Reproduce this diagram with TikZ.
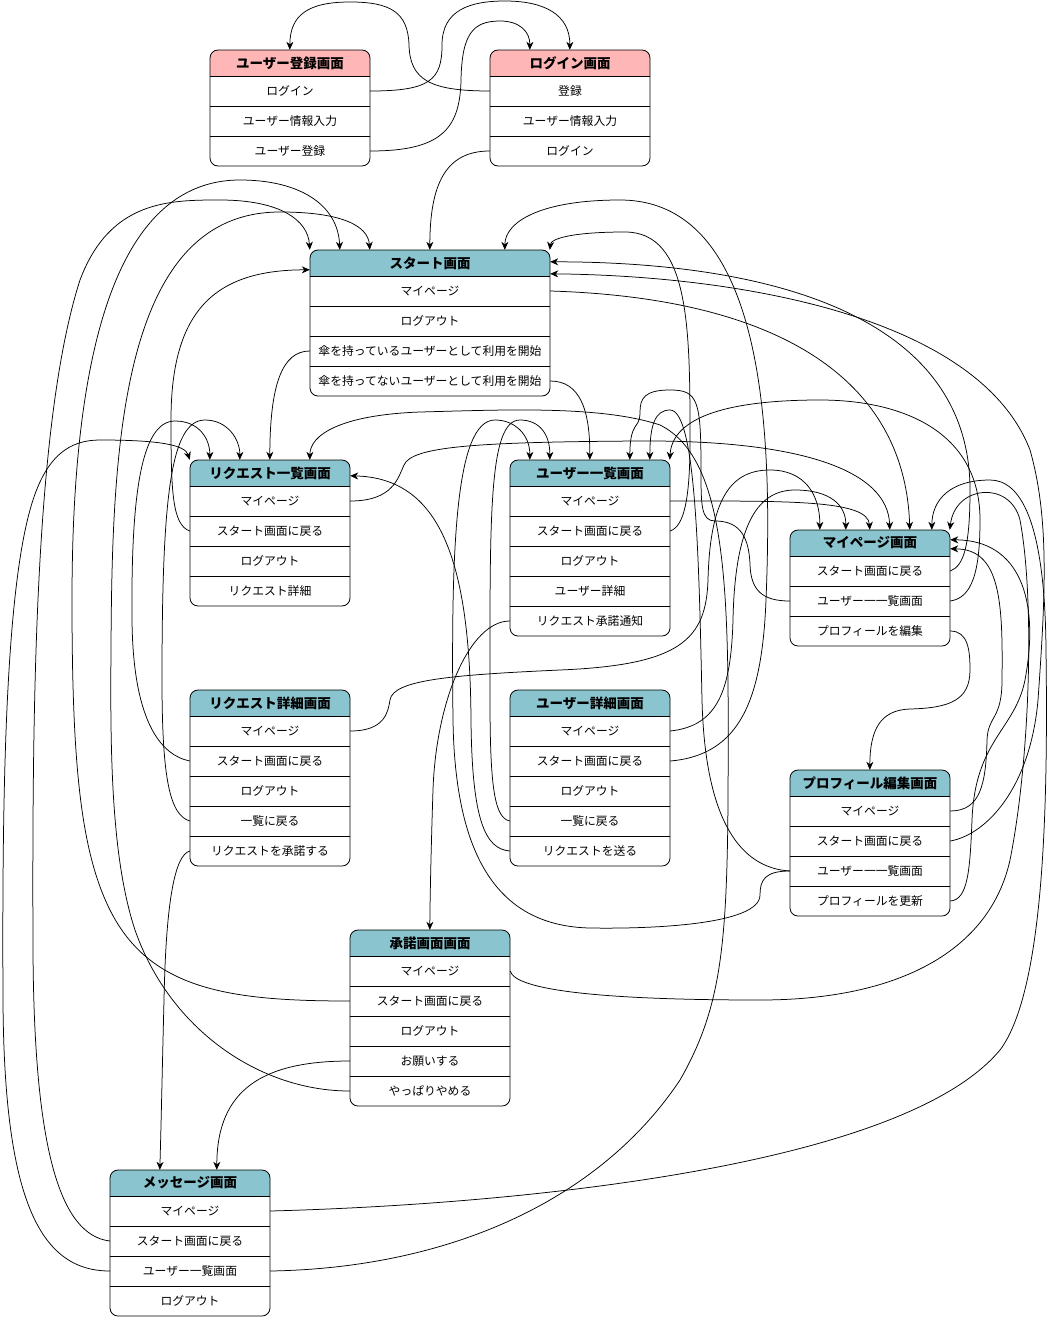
\documentclass[tikz,border=0pt]{standalone}
\usepackage{fontspec}
\setmainfont{Noto Sans CJK JP}
\usetikzlibrary{arrows.meta}
\definecolor{pinkhdr}{HTML}{FFB6B6}
\definecolor{tealhdr}{HTML}{89C4CF}
\tikzset{
  edge/.style={draw=black, line width=0.75pt, -{Stealth[length=8pt,width=7pt,inset=2.5pt]}},
  hdrtext/.style={font=\fontsize{13.5}{15}\selectfont\bfseries, inner sep=0pt, minimum height=26pt},
  rowtext/.style={font=\fontsize{11.8}{14}\selectfont, inner sep=0pt, minimum height=30pt},
  frame/.style={line width=0.8pt},
}
% name, x, y, width, header fill, title, number of rows, rows
\newcommand\screen[8]{%
  \fill[white, rounded corners=8pt] (#2,#3) rectangle (#2+#4,#3+26+30*#7);
  \path[fill=#5] (#2,#3+26) {[rounded corners=8pt] -- (#2,#3) -- (#2+#4,#3)} -- (#2+#4,#3+26) -- cycle;
  \node[hdrtext, minimum width=#4pt] (#1) at (#2+#4/2,#3+13) {#6};
  \foreach \t [count=\i] in {#8} {
    \node[rowtext, minimum width=#4pt] (#1-\i) at (#2+#4/2,#3+11+30*\i) {\t};
    \draw[frame] (#2,#3-4+30*\i) -- (#2+#4,#3-4+30*\i);
  }
  \draw[frame, rounded corners=8pt] (#2,#3) rectangle (#2+#4,#3+26+30*#7);
}
\begin{document}
\begin{tikzpicture}[x=1pt,y=-1pt]
\useasboundingbox[fill=white] (0,0) rectangle (1051,1317);

% screens
\screen{reg}{210}{50}{160}{pinkhdr}{ユーザー登録画面}{3}{ログイン,ユーザー情報入力,ユーザー登録}
\screen{login}{490}{50}{160}{pinkhdr}{ログイン画面}{3}{登録,ユーザー情報入力,ログイン}
\screen{start}{310}{250}{240}{tealhdr}{スタート画面}{4}{マイページ,ログアウト,傘を持っているユーザーとして利用を開始,傘を持ってないユーザーとして利用を開始}
\screen{reqlist}{190}{460}{160}{tealhdr}{リクエスト一覧画面}{4}{マイページ,スタート画面に戻る,ログアウト,リクエスト詳細}
\screen{userlist}{510}{460}{160}{tealhdr}{ユーザー一覧画面}{5}{マイページ,スタート画面に戻る,ログアウト,ユーザー詳細,リクエスト承諾通知}
\screen{mypage}{790}{530}{160}{tealhdr}{マイページ画面}{3}{スタート画面に戻る,ユーザー一一覧画面,プロフィールを編集}
\screen{reqdet}{190}{690}{160}{tealhdr}{リクエスト詳細画面}{5}{マイページ,スタート画面に戻る,ログアウト,一覧に戻る,リクエストを承諾する}
\screen{userdet}{510}{690}{160}{tealhdr}{ユーザー詳細画面}{5}{マイページ,スタート画面に戻る,ログアウト,一覧に戻る,リクエストを送る}
\screen{profile}{790}{770}{160}{tealhdr}{プロフィール編集画面}{4}{マイページ,スタート画面に戻る,ユーザー一一覧画面,プロフィールを更新}
\screen{shonin}{350}{930}{160}{tealhdr}{承諾画面画面}{5}{マイページ,スタート画面に戻る,ログアウト,お願いする,やっぱりやめる}
\screen{message}{110}{1170}{160}{tealhdr}{メッセージ画面}{4}{マイページ,スタート画面に戻る,ユーザー一覧画面,ログアウト}

% registration / login
\draw[edge] (reg-1.east) .. controls (430,91) and (442,80) .. (442,45) .. controls (442,10) and (470,1) .. (505,1) .. controls (545,1) and (570,15) .. ([xshift=80pt]login.north west);
\draw[edge] (reg-3.east) .. controls (440,151) and (460,130) .. (461,80) .. controls (462,35) and (472,21) .. (500,21) .. controls (520,21) and (530,32) .. ([xshift=40pt]login.north west);
\draw[edge] (login-1.west) .. controls (430,91) and (410,80) .. (409,45) .. controls (408,12) and (390,2) .. (350,2) .. controls (308,2) and (290,15) .. ([xshift=80pt]reg.north west);
\draw[edge] (login-3.west) .. controls (445,151) and (430,185) .. ([xshift=120pt]start.north west);

% start screen
\draw[edge] (start-1.east) .. controls (780,298) and (905,380) .. ([xshift=120pt]mypage.north west);
\draw[edge] (start-3.west) .. controls (282,351) and (270,385) .. ([xshift=80pt]reqlist.north west);
\draw[edge] (start-4.east) .. controls (580,381) and (590,410) .. ([xshift=80pt]userlist.north west);

% request list
\draw[edge] (reqlist-1.east) .. controls (393,501) and (398,478) .. (404,465) .. controls (412,447) and (470,442) .. (640,441) .. controls (800,440) and (888,470) .. ([xshift=100pt]mypage.north west);
\draw[edge] (reqlist-2.west) .. controls (172,525) and (171,490) .. (171,420) .. controls (171,310) and (215,270) .. ([yshift=-20pt]start.north west);

% user list
\draw[edge] (userlist-1.east) .. controls (790,501) and (868,500) .. ([xshift=80pt]mypage.north west);
\draw[edge] (userlist-2.east) .. controls (684,526) and (690,500) .. (690,440) .. controls (690,330) and (690,232) .. (625,232) .. controls (575,232) and (551,238) .. ([xshift=240pt]start.north west);
\draw[edge] (userlist-5.west) .. controls (470,621) and (436,700) .. (433,790) .. controls (431,850) and (430,900) .. ([xshift=80pt]shonin.north west);

% my page
\draw[edge] (mypage-1.east) .. controls (964,566) and (970,545) .. (970,490) .. controls (970,320) and (780,262) .. ([yshift=-12pt]start.north east);
\draw[edge] (mypage-2.west) .. controls (762,601) and (751,590) .. (750,565) .. controls (749,532) and (736,521) .. (715,521) .. controls (701,521) and (701,505) .. (701,470) .. controls (701,400) and (698,390) .. (670,390) .. controls (645,390) and (640,398) .. (640,412) .. controls (640,430) and (630,420) .. ([xshift=120pt]userlist.north west);
\draw[edge] (mypage-2.east) .. controls (972,598) and (980,572) .. (980,520) .. controls (980,430) and (900,400) .. (820,400) .. controls (720,400) and (672,420) .. ([xshift=160pt]userlist.north west);
\draw[edge] (mypage-3.east) .. controls (968,631) and (970,650) .. (970,670) .. controls (970,700) and (950,708) .. (910,709) .. controls (880,710) and (870,730) .. ([xshift=80pt]profile.north west);

% request detail
\draw[edge] (reqdet-1.east) .. controls (385,731) and (388,712) .. (390,700) .. controls (393,680) and (450,675) .. (560,670) .. controls (680,665) and (706,640) .. (708,580) .. controls (710,500) and (730,470) .. (770,470) .. controls (805,470) and (820,495) .. ([xshift=30pt]mypage.north west);
\draw[edge] (reqdet-2.west) .. controls (160,755) and (133,720) .. (132,620) .. controls (131,500) and (140,421) .. (175,421) .. controls (200,421) and (210,440) .. ([xshift=20pt]reqlist.north west);
\draw[edge] (reqdet-4.west) .. controls (170,815) and (162,780) .. (162,680) .. controls (162,500) and (170,420) .. (205,420) .. controls (228,420) and (240,440) .. ([xshift=50pt]reqlist.north west);
\draw[edge] (reqdet-5.west) .. controls (175,855) and (166,900) .. (164,1000) .. controls (162,1080) and (161,1130) .. ([xshift=50pt]message.north west);

% user detail
\draw[edge] (userdet-1.east) .. controls (718,726) and (731,690) .. (733,620) .. controls (735,520) and (760,490) .. (795,490) .. controls (830,490) and (846,505) .. ([xshift=56pt]mypage.north west);
\draw[edge] (userdet-2.east) .. controls (740,755) and (762,700) .. (766,600) .. controls (772,450) and (770,200) .. (620,200) .. controls (540,200) and (505,222) .. ([xshift=195pt]start.north west);
\draw[edge] (userdet-4.west) .. controls (495,818) and (490,790) .. (490,700) .. controls (490,520) and (488,420) .. (520,420) .. controls (540,420) and (550,435) .. ([xshift=40pt]userlist.north west);
\draw[edge] (userdet-5.west) .. controls (485,849) and (472,820) .. (471,720) .. controls (470,560) and (440,478) .. ([yshift=-16pt]reqlist.north east);

% profile edit
\draw[edge] (profile-1.east) .. controls (980,811) and (986,785) .. (987,740) .. controls (988,715) and (1002,720) .. (1002,680) .. controls (1003,600) and (1000,549) .. ([yshift=-19pt]mypage.north east);
\draw[edge] (profile-2.east) .. controls (985,835) and (1030,790) .. (1038,700) .. controls (1045,600) and (1050,520) .. (1030,450) .. controls (980,320) and (750,276) .. ([yshift=-24pt]start.north east);
\draw[edge] (profile-3.west) .. controls (765,871) and (760,880) .. (760,895) .. controls (760,925) and (650,929) .. (590,928) .. controls (500,926) and (455,860) .. (453,720) .. controls (451,550) and (455,420) .. (495,420) .. controls (515,420) and (530,435) .. ([xshift=20pt]userlist.north west);
\draw[edge] (profile-3.west) .. controls (740,868) and (705,820) .. (702,700) .. controls (699,560) and (696,410) .. (670,410) .. controls (655,410) and (650,425) .. ([xshift=140pt]userlist.north west);
\draw[edge] (profile-4.east) .. controls (968,900) and (970,870) .. (972,820) .. controls (975,740) and (1015,730) .. (1025,680) .. controls (1040,600) and (1020,540) .. ([yshift=-10pt]mypage.north east);

% approval screen
\draw[edge] (shonin-1.east) .. controls (515,990) and (600,1000) .. (760,1000) .. controls (900,1000) and (990,950) .. (1010,860) .. controls (1030,760) and (1035,600) .. (1020,520) .. controls (1010,480) and (955,485) .. ([xshift=160pt]mypage.north west);
\draw[edge] (shonin-2.west) .. controls (230,1001) and (150,990) .. (110,910) .. controls (80,850) and (72,760) .. (72,600) .. controls (72,400) and (100,180) .. (240,180) .. controls (300,180) and (338,205) .. ([xshift=30pt]start.north west);
\draw[edge] (shonin-4.west) .. controls (262,1061) and (217,1090) .. ([xshift=107pt]message.north west);
\draw[edge] (shonin-5.west) .. controls (260,1091) and (170,1030) .. (135,930) .. controls (112,860) and (110,760) .. (111,650) .. controls (112,450) and (120,212) .. (280,212) .. controls (340,212) and (368,225) .. ([xshift=60pt]start.north west);

% message screen
\draw[edge] (message-1.east) .. controls (500,1205) and (900,1170) .. (1000,1050) .. controls (1045,990) and (1048,800) .. (1046,650) .. controls (1045,520) and (1020,480) .. (990,480) .. controls (950,480) and (932,500) .. ([xshift=142pt]mypage.north west);
\draw[edge] (message-2.west) .. controls (60,1235) and (34,1150) .. (33,950) .. controls (32,700) and (35,420) .. (80,280) .. controls (110,200) and (170,200) .. (220,200) .. controls (280,200) and (308,220) .. (start.north west);
\draw[edge] (message-3.west) .. controls (40,1271) and (4,1200) .. (3,1000) .. controls (2,800) and (5,600) .. (30,510) .. controls (45,455) and (70,440) .. (100,440) .. controls (160,440) and (185,445) .. (reqlist.north west);
\draw[edge] (message-3.east) .. controls (450,1268) and (600,1200) .. (680,1080) .. controls (720,1010) and (727,950) .. (728,800) .. controls (729,600) and (730,460) .. (660,425) .. controls (600,405) and (500,410) .. (420,412) .. controls (340,415) and (310,435) .. ([xshift=120pt]reqlist.north west);
\end{tikzpicture}
\end{document}
